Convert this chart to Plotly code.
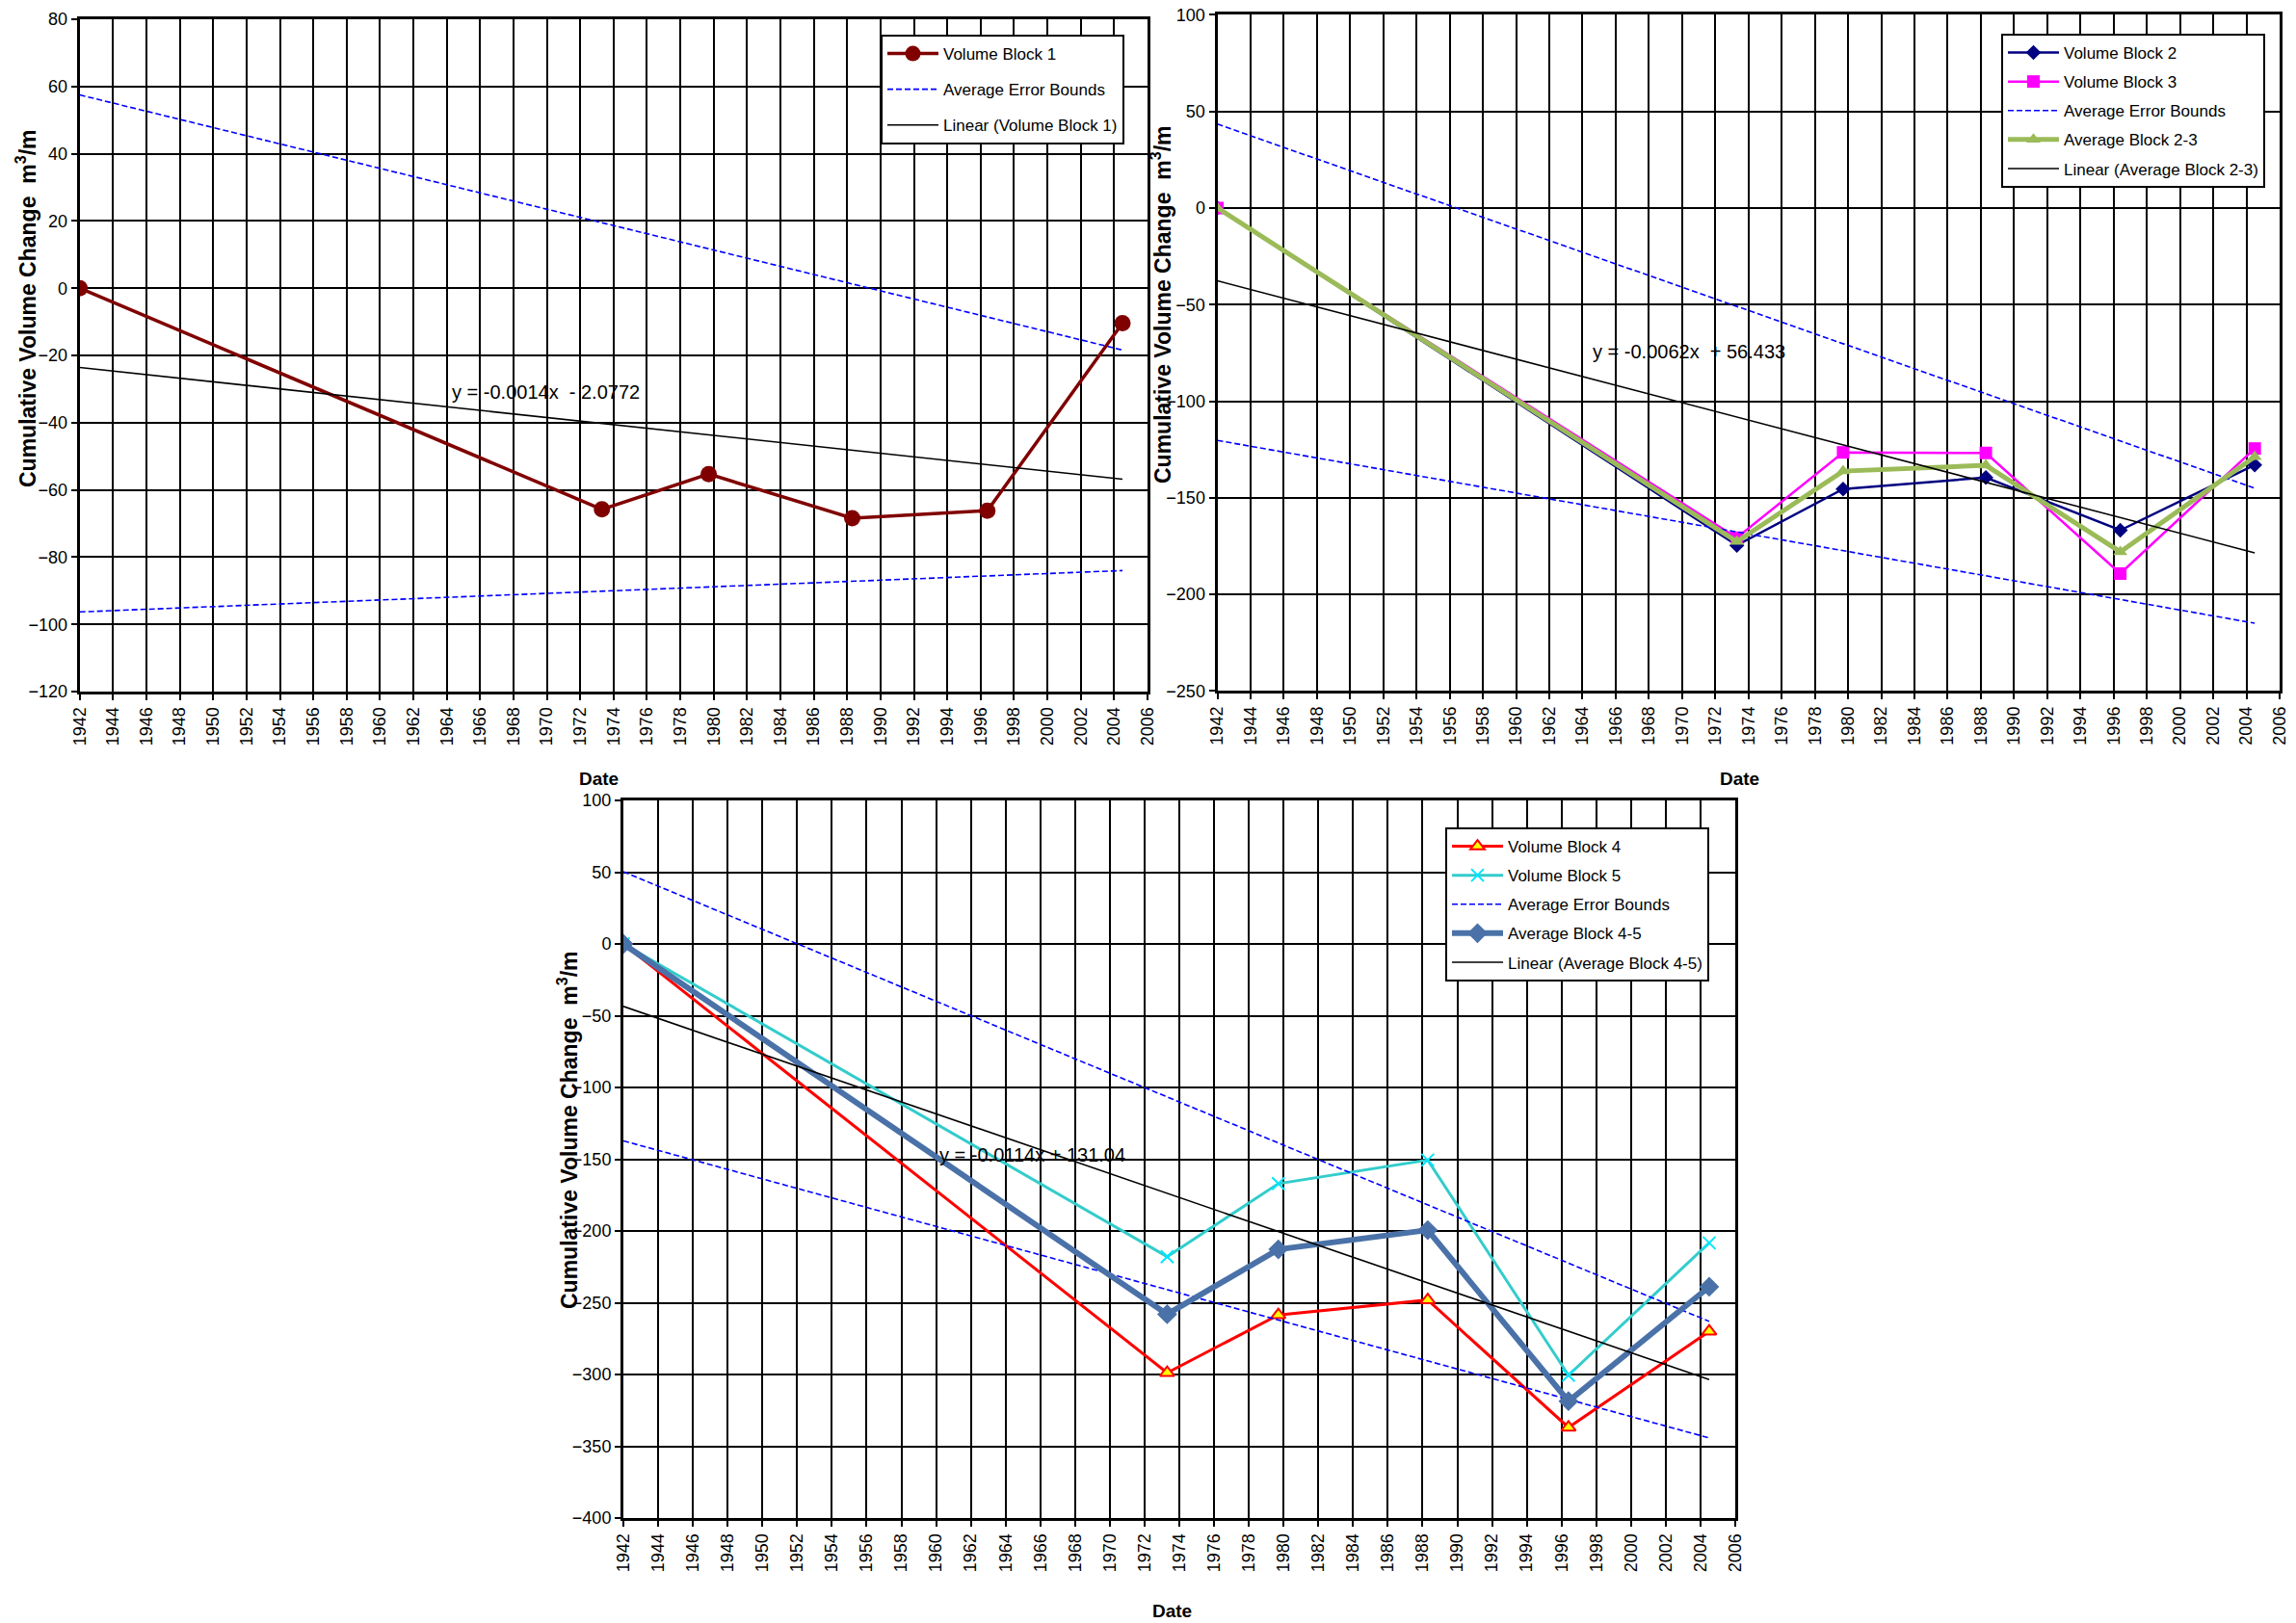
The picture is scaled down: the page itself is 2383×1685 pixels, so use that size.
import plotly.graph_objects as go

# ---------------- data ----------------
DATES = [1942.0, 1973.3, 1979.7, 1988.3, 1996.4, 2004.5]
BOUND_X = [1942.0, 2004.5]

# plot 1
BLOCK1 = [0.0, -65.8, -55.3, -68.4, -66.2, -10.4]
P1_UPPER = [57.5, -18.4]
P1_LOWER = [-96.3, -84.0]
P1_TREND = [-23.6, -56.8]
P1_EQ = "y = -0.0014x\u00a0 - 2.0772"

# plot 2
BLOCK2 = [0.0, -174.6, -145.5, -139.5, -166.8, -133.0]
BLOCK3 = [0.0, -170.7, -126.5, -126.8, -189.2, -124.5]
AVG23 = [0.0, -172.7, -136.2, -133.2, -178.0, -128.8]
P2_UPPER = [43.4, -145.0]
P2_LOWER = [-120.3, -214.9]
P2_TREND = [-37.7, -178.5]
P2_EQ = "y = -0.0062x\u00a0 + 56.433"

# plot 3
BLOCK4 = [0.0, -298.8, -258.5, -248.1, -336.9, -269.9]
BLOCK5 = [0.0, -217.9, -167.0, -150.6, -300.5, -208.3]
AVG45 = [0.0, -258.0, -212.8, -199.4, -318.6, -238.9]
P3_UPPER = [50.3, -263.0]
P3_LOWER = [-137.2, -344.2]
P3_TREND = [-43.5, -303.6]
P3_EQ = "y = -0.0114x + 131.04"

Y_TITLE = "Cumulative Volume Change\u00a0 m<sup>3</sup>/m"
X_TITLE = "Date"

# ---------------- layout helpers ----------------
W, H = 2383, 1685
def px(x):
    return x / W
def py(y):
    return 1 - y / H

FONT = "Liberation Sans, Arial, sans-serif"
BLUE_DASH = dict(color="#0000FF", width=1.6, dash="6px,3px")
TREND_LINE = dict(color="black", width=1.6)

fig = go.Figure()

# ---- plot 1 ----
fig.add_trace(go.Scatter(x=DATES, y=BLOCK1, mode="lines+markers", name="Volume Block 1",
                         line=dict(color="#800000", width=3.5),
                         marker=dict(symbol="circle", size=17, color="#800000"),
                         xaxis="x", yaxis="y", legend="legend", legendgroup="a1"))
fig.add_trace(go.Scatter(x=BOUND_X, y=P1_UPPER, mode="lines", name="Average Error Bounds",
                         line=BLUE_DASH, xaxis="x", yaxis="y", legend="legend", legendgroup="b1"))
fig.add_trace(go.Scatter(x=BOUND_X, y=P1_LOWER, mode="lines", name="Average Error Bounds",
                         line=BLUE_DASH, xaxis="x", yaxis="y", legend="legend", legendgroup="b1",
                         showlegend=False))
fig.add_trace(go.Scatter(x=BOUND_X, y=P1_TREND, mode="lines", name="Linear (Volume Block 1)",
                         line=TREND_LINE, xaxis="x", yaxis="y", legend="legend", legendgroup="c1"))

# ---- plot 2 ----
fig.add_trace(go.Scatter(x=DATES, y=BLOCK2, mode="lines+markers", name="Volume Block 2",
                         line=dict(color="#000080", width=2.5),
                         marker=dict(symbol="diamond", size=12, color="#000080"),
                         xaxis="x2", yaxis="y2", legend="legend2", legendgroup="a2"))
fig.add_trace(go.Scatter(x=DATES, y=BLOCK3, mode="lines+markers", name="Volume Block 3",
                         line=dict(color="#FF00FF", width=2.5),
                         marker=dict(symbol="square", size=13, color="#FF00FF"),
                         xaxis="x2", yaxis="y2", legend="legend2", legendgroup="b2"))
fig.add_trace(go.Scatter(x=BOUND_X, y=P2_UPPER, mode="lines", name="Average Error Bounds",
                         line=BLUE_DASH, xaxis="x2", yaxis="y2", legend="legend2", legendgroup="c2"))
fig.add_trace(go.Scatter(x=BOUND_X, y=P2_LOWER, mode="lines", name="Average Error Bounds",
                         line=BLUE_DASH, xaxis="x2", yaxis="y2", legend="legend2", legendgroup="c2",
                         showlegend=False))
fig.add_trace(go.Scatter(x=DATES, y=AVG23, mode="lines+markers", name="Average Block 2-3",
                         line=dict(color="#9BBB59", width=5),
                         marker=dict(symbol="triangle-up", size=13, color="#9BBB59"),
                         xaxis="x2", yaxis="y2", legend="legend2", legendgroup="d2"))
fig.add_trace(go.Scatter(x=BOUND_X, y=P2_TREND, mode="lines", name="Linear (Average Block 2-3)",
                         line=TREND_LINE, xaxis="x2", yaxis="y2", legend="legend2", legendgroup="e2"))

# ---- plot 3 ----
fig.add_trace(go.Scatter(x=DATES, y=BLOCK4, mode="lines+markers", name="Volume Block 4",
                         line=dict(color="#FF0000", width=3),
                         marker=dict(symbol="triangle-up", size=13, color="#FFFF00",
                                     line=dict(color="#FF0000", width=2)),
                         xaxis="x3", yaxis="y3", legend="legend3", legendgroup="a3"))
fig.add_trace(go.Scatter(x=DATES, y=BLOCK5, mode="lines+markers", name="Volume Block 5",
                         line=dict(color="#33CCCC", width=3),
                         marker=dict(symbol="x-thin", size=13, color="#00FFFF",
                                     line=dict(color="#00E5FF", width=2)),
                         xaxis="x3", yaxis="y3", legend="legend3", legendgroup="b3"))
fig.add_trace(go.Scatter(x=BOUND_X, y=P3_UPPER, mode="lines", name="Average Error Bounds",
                         line=BLUE_DASH, xaxis="x3", yaxis="y3", legend="legend3", legendgroup="c3"))
fig.add_trace(go.Scatter(x=BOUND_X, y=P3_LOWER, mode="lines", name="Average Error Bounds",
                         line=BLUE_DASH, xaxis="x3", yaxis="y3", legend="legend3", legendgroup="c3",
                         showlegend=False))
fig.add_trace(go.Scatter(x=DATES, y=AVG45, mode="lines+markers", name="Average Block 4-5",
                         line=dict(color="#4A72A8", width=6),
                         marker=dict(symbol="diamond", size=16, color="#4A72A8"),
                         xaxis="x3", yaxis="y3", legend="legend3", legendgroup="d3"))
fig.add_trace(go.Scatter(x=BOUND_X, y=P3_TREND, mode="lines", name="Linear (Average Block 4-5)",
                         line=TREND_LINE, xaxis="x3", yaxis="y3", legend="legend3", legendgroup="e3"))

# ---------------- axes ----------------
def xaxis(dom, anchor):
    return dict(domain=dom, anchor=anchor, range=[1942, 2006], tick0=1942, dtick=2,
                tickangle=-90, showgrid=True, gridcolor="black", gridwidth=2,
                showline=True, linecolor="black", linewidth=3, mirror=True,
                ticks="outside", ticklen=6, tickwidth=2, tickcolor="black",
                zeroline=False, automargin=False,
                tickfont=dict(family=FONT, size=18, color="black"))

def yaxis(dom, anchor, rng, dt):
    return dict(domain=dom, anchor=anchor, range=rng, dtick=dt, tick0=0,
                showgrid=True, gridcolor="black", gridwidth=2,
                showline=True, linecolor="black", linewidth=3, mirror=True,
                ticks="outside", ticklen=6, tickwidth=2, tickcolor="black",
                zeroline=False, automargin=False,
                tickfont=dict(family=FONT, size=18, color="black"))

P1 = (82.7, 1191.0, 20.0, 718.0)
P2 = (1263.5, 2366.0, 15.3, 717.4)
P3 = (647.0, 1801.0, 831.0, 1576.0)

def xd(p):
    return [px(p[0]), px(p[1])]
def yd(p):
    return [py(p[3]), py(p[2])]

legend_common = dict(bgcolor="white", bordercolor="black", borderwidth=2,
                     font=dict(family=FONT, size=17, color="black"),
                     xanchor="left", yanchor="top", itemwidth=53,
                     traceorder="grouped")

fig.update_layout(
    width=W, height=H, autosize=False,
    margin=dict(l=0, r=0, t=0, b=0, autoexpand=False),
    paper_bgcolor="white", plot_bgcolor="white",
    font=dict(family=FONT, color="black"),
    xaxis=xaxis(xd(P1), "y"), yaxis=yaxis(yd(P1), "x", [-120, 80], 20),
    xaxis2=xaxis(xd(P2), "y2"), yaxis2=yaxis(yd(P2), "x2", [-250, 100], 50),
    xaxis3=xaxis(xd(P3), "y3"), yaxis3=yaxis(yd(P3), "x3", [-400, 100], 50),
    legend=dict(x=px(914), y=py(36), tracegroupgap=12, **legend_common),
    legend2=dict(x=px(2077), y=py(35), tracegroupgap=5, **legend_common),
    legend3=dict(x=px(1500), y=py(859), tracegroupgap=5, **legend_common),
)

ann = []
# equations
ann.append(dict(x=1964.2, y=-31.0, xref="x", yref="y", text=P1_EQ, showarrow=False,
                xanchor="left", yanchor="middle", font=dict(family=FONT, size=20, color="black")))
ann.append(dict(x=1964.5, y=-74.2, xref="x2", yref="y2", text=P2_EQ, showarrow=False,
                xanchor="left", yanchor="middle", font=dict(family=FONT, size=20, color="black")))
ann.append(dict(x=1960.1, y=-147.0, xref="x3", yref="y3", text=P3_EQ, showarrow=False,
                xanchor="left", yanchor="middle", font=dict(family=FONT, size=20, color="black")))
# axis titles
for xc, yc in [(27, 320), (1205, 316), (589, 1173)]:
    ann.append(dict(x=px(xc), y=py(yc), xref="paper", yref="paper", text=Y_TITLE,
                    textangle=-90, showarrow=False, xanchor="center", yanchor="middle",
                    font=dict(family=FONT, size=23, color="black", weight="bold")))
for xc, yc in [(621, 808), (1805, 808), (1216, 1672)]:
    ann.append(dict(x=px(xc), y=py(yc), xref="paper", yref="paper", text=X_TITLE,
                    showarrow=False, xanchor="center", yanchor="middle",
                    font=dict(family=FONT, size=19, color="black", weight="bold")))
fig.update_layout(annotations=ann)

fig.write_html("out.html", config={"displayModeBar": False},
               post_script="document.body.style.margin='0px';document.body.style.overflow='hidden';")
